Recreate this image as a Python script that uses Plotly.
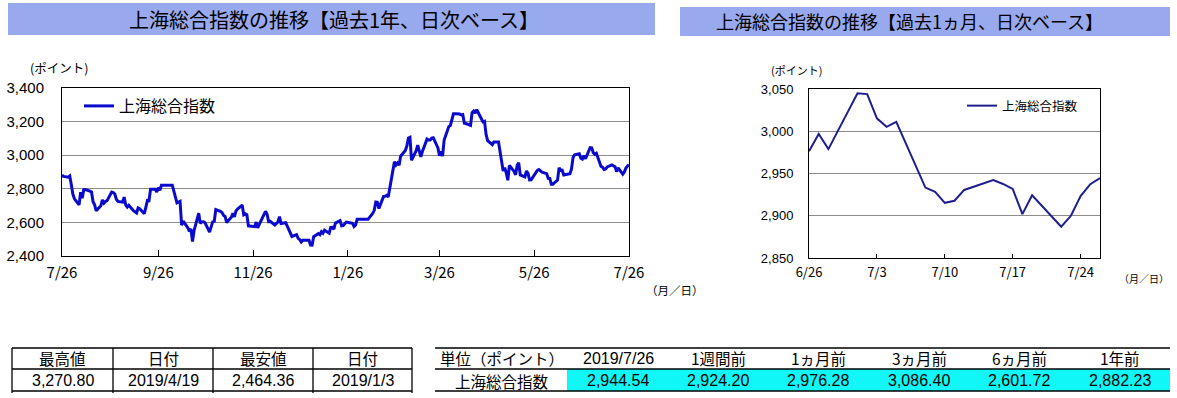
import plotly.graph_objects as go

W, H = 1177, 398
FONT = "Noto Sans CJK JP"
NUMFONT = "Liberation Sans"

# ---------------- data ----------------
dates_1y = [
    "2018-07-26", "2018-07-27", "2018-07-30", "2018-07-31", "2018-08-01", "2018-08-02", "2018-08-03",
    "2018-08-06", "2018-08-07", "2018-08-08", "2018-08-09", "2018-08-10", "2018-08-13", "2018-08-14",
    "2018-08-15", "2018-08-16", "2018-08-17", "2018-08-20", "2018-08-21", "2018-08-22", "2018-08-23",
    "2018-08-24", "2018-08-27", "2018-08-28", "2018-08-29", "2018-08-30", "2018-08-31", "2018-09-03",
    "2018-09-04", "2018-09-05", "2018-09-06", "2018-09-07", "2018-09-10", "2018-09-11", "2018-09-12",
    "2018-09-13", "2018-09-14", "2018-09-17", "2018-09-18", "2018-09-19", "2018-09-20", "2018-09-21",
    "2018-09-24", "2018-09-25", "2018-09-26", "2018-09-27", "2018-09-28", "2018-10-01", "2018-10-02",
    "2018-10-03", "2018-10-04", "2018-10-05", "2018-10-08", "2018-10-09", "2018-10-10", "2018-10-11",
    "2018-10-12", "2018-10-15", "2018-10-16", "2018-10-17", "2018-10-18", "2018-10-19", "2018-10-22",
    "2018-10-23", "2018-10-24", "2018-10-25", "2018-10-26", "2018-10-29", "2018-10-30", "2018-10-31",
    "2018-11-01", "2018-11-02", "2018-11-05", "2018-11-06", "2018-11-07", "2018-11-08", "2018-11-09",
    "2018-11-12", "2018-11-13", "2018-11-14", "2018-11-15", "2018-11-16", "2018-11-19", "2018-11-20",
    "2018-11-21", "2018-11-22", "2018-11-23", "2018-11-26", "2018-11-27", "2018-11-28", "2018-11-29",
    "2018-11-30", "2018-12-03", "2018-12-04", "2018-12-05", "2018-12-06", "2018-12-07", "2018-12-10",
    "2018-12-11", "2018-12-12", "2018-12-13", "2018-12-14", "2018-12-17", "2018-12-18", "2018-12-19",
    "2018-12-20", "2018-12-21", "2018-12-24", "2018-12-25", "2018-12-26", "2018-12-27", "2018-12-28",
    "2018-12-31", "2019-01-01", "2019-01-02", "2019-01-03", "2019-01-04", "2019-01-07", "2019-01-08",
    "2019-01-09", "2019-01-10", "2019-01-11", "2019-01-14", "2019-01-15", "2019-01-16", "2019-01-17",
    "2019-01-18", "2019-01-21", "2019-01-22", "2019-01-23", "2019-01-24", "2019-01-25", "2019-01-28",
    "2019-01-29", "2019-01-30", "2019-01-31", "2019-02-01", "2019-02-04", "2019-02-05", "2019-02-06",
    "2019-02-07", "2019-02-08", "2019-02-11", "2019-02-12", "2019-02-13", "2019-02-14", "2019-02-15",
    "2019-02-18", "2019-02-19", "2019-02-20", "2019-02-21", "2019-02-22", "2019-02-25", "2019-02-26",
    "2019-02-27", "2019-02-28", "2019-03-01", "2019-03-04", "2019-03-05", "2019-03-06", "2019-03-07",
    "2019-03-08", "2019-03-11", "2019-03-12", "2019-03-13", "2019-03-14", "2019-03-15", "2019-03-18",
    "2019-03-19", "2019-03-20", "2019-03-21", "2019-03-22", "2019-03-25", "2019-03-26", "2019-03-27",
    "2019-03-28", "2019-03-29", "2019-04-01", "2019-04-02", "2019-04-03", "2019-04-04", "2019-04-05",
    "2019-04-08", "2019-04-09", "2019-04-10", "2019-04-11", "2019-04-12", "2019-04-15", "2019-04-16",
    "2019-04-17", "2019-04-18", "2019-04-19", "2019-04-22", "2019-04-23", "2019-04-24", "2019-04-25",
    "2019-04-26", "2019-04-29", "2019-04-30", "2019-05-01", "2019-05-02", "2019-05-03", "2019-05-06",
    "2019-05-07", "2019-05-08", "2019-05-09", "2019-05-10", "2019-05-13", "2019-05-14", "2019-05-15",
    "2019-05-16", "2019-05-17", "2019-05-20", "2019-05-21", "2019-05-22", "2019-05-23", "2019-05-24",
    "2019-05-27", "2019-05-28", "2019-05-29", "2019-05-30", "2019-05-31", "2019-06-03", "2019-06-04",
    "2019-06-05", "2019-06-06", "2019-06-07", "2019-06-10", "2019-06-11", "2019-06-12", "2019-06-13",
    "2019-06-14", "2019-06-17", "2019-06-18", "2019-06-19", "2019-06-20", "2019-06-21", "2019-06-24",
    "2019-06-25", "2019-06-26", "2019-06-27", "2019-06-28", "2019-07-01", "2019-07-02", "2019-07-03",
    "2019-07-04", "2019-07-05", "2019-07-08", "2019-07-09", "2019-07-10", "2019-07-11", "2019-07-12",
    "2019-07-15", "2019-07-16", "2019-07-17", "2019-07-18", "2019-07-19", "2019-07-22", "2019-07-23",
    "2019-07-24", "2019-07-25", "2019-07-26",
]
values_1y = [
    2882.23, 2873.59, 2869.05, 2876.40, 2824.53, 2768.02, 2740.44,
    2705.16, 2779.37, 2744.07, 2794.38, 2795.31, 2785.87, 2780.96,
    2723.26, 2705.19, 2668.97, 2698.47, 2733.75, 2714.61, 2724.62,
    2729.43, 2780.90, 2777.98, 2769.30, 2737.74, 2725.25, 2720.73,
    2750.58, 2704.34, 2691.59, 2702.30, 2669.48, 2664.80, 2656.11,
    2686.58, 2681.64, 2651.79, 2699.95, 2730.85, 2729.24, 2797.49,
    2797.49, 2781.14, 2806.81, 2791.77, 2821.35, 2821.35, 2821.35,
    2821.35, 2821.35, 2821.35, 2716.51, 2721.01, 2725.84, 2583.46,
    2606.91, 2568.10, 2546.33, 2561.61, 2486.42, 2550.47, 2654.88,
    2594.83, 2603.30, 2603.80, 2598.85, 2542.10, 2568.05, 2602.78,
    2606.24, 2676.48, 2665.43, 2659.36, 2641.34, 2635.63, 2598.87,
    2630.52, 2654.88, 2632.24, 2668.17, 2679.11, 2703.51, 2645.43,
    2651.51, 2645.85, 2579.48, 2575.81, 2574.68, 2601.74, 2567.44,
    2588.19, 2654.80, 2665.96, 2649.81, 2605.18, 2605.89, 2584.58,
    2594.09, 2602.15, 2634.05, 2593.74, 2597.97, 2576.65, 2549.56,
    2536.27, 2516.25, 2527.01, 2504.82, 2498.29, 2483.09, 2493.90,
    2493.90, 2493.90, 2465.29, 2464.36, 2514.87, 2533.09, 2526.46,
    2544.34, 2535.10, 2553.83, 2535.77, 2570.34, 2570.42, 2559.64,
    2596.01, 2610.51, 2579.70, 2581.00, 2591.69, 2601.72, 2596.98,
    2594.25, 2575.58, 2584.57, 2618.23, 2618.23, 2618.23, 2618.23,
    2618.23, 2618.23, 2653.90, 2671.89, 2721.07, 2719.70, 2682.39,
    2754.36, 2755.65, 2761.22, 2751.80, 2804.23, 2961.28, 2941.52,
    2953.82, 2940.95, 2994.01, 3027.58, 3054.25, 3102.10, 3106.42,
    2969.86, 3026.99, 3060.31, 3026.95, 2990.69, 3021.75, 3096.42,
    3090.98, 3090.64, 3101.46, 3104.15, 3043.03, 2997.10, 3022.72,
    2994.94, 3090.76, 3170.36, 3176.82, 3216.30, 3246.57, 3246.57,
    3244.81, 3239.66, 3241.93, 3189.96, 3188.63, 3177.79, 3253.60,
    3263.12, 3250.20, 3270.80, 3215.04, 3198.59, 3201.61, 3123.83,
    3086.40, 3062.50, 3078.34, 3078.34, 3078.34, 3078.34, 2906.46,
    2926.39, 2893.76, 2850.95, 2939.21, 2903.71, 2883.61, 2938.68,
    2955.71, 2882.30, 2870.60, 2905.97, 2891.70, 2852.52, 2852.99,
    2892.38, 2909.91, 2914.70, 2905.81, 2898.70, 2890.08, 2862.28,
    2861.42, 2827.80, 2827.80, 2852.13, 2925.72, 2909.38, 2910.74,
    2881.97, 2887.62, 2890.16, 2917.80, 2987.12, 3001.98, 3008.15,
    2982.07, 2976.28, 2996.79, 2978.88, 3044.90, 3043.94, 3015.26,
    3005.25, 3011.06, 2933.36, 2928.23, 2915.30, 2917.76, 2930.55,
    2942.19, 2937.62, 2931.69, 2901.95, 2924.20, 2886.97, 2899.94,
    2923.28, 2937.36, 2944.54,
]

dates_1m = [
    "2019-06-26", "2019-06-27", "2019-06-28", "2019-07-01", "2019-07-02", "2019-07-03",
    "2019-07-04", "2019-07-05", "2019-07-08", "2019-07-09", "2019-07-10", "2019-07-11",
    "2019-07-12", "2019-07-15", "2019-07-16", "2019-07-17", "2019-07-18", "2019-07-19",
    "2019-07-22", "2019-07-23", "2019-07-24", "2019-07-25", "2019-07-26",
]
values_1m = [
    2976.28, 2996.79, 2978.88, 3044.90, 3043.94, 3015.26,
    3005.25, 3011.06, 2933.36, 2928.23, 2915.30, 2917.76,
    2930.55, 2942.19, 2937.62, 2931.69, 2901.95, 2924.20,
    2886.97, 2899.94, 2923.28, 2937.36, 2944.54,
]

series_name = "上海総合指数"
title_1y = "上海総合指数の推移【過去1年、日次ベース】"
title_1m = "上海総合指数の推移【過去1ヵ月、日次ベース】"

ticks_1y = ["2018-07-26", "2018-09-26", "2018-11-26", "2019-01-26", "2019-03-26", "2019-05-26", "2019-07-26"]
ticklabels_1y = ["7/26", "9/26", "11/26", "1/26", "3/26", "5/26", "7/26"]
ticks_1m = ["2019-06-26", "2019-07-03", "2019-07-10", "2019-07-17", "2019-07-24"]
ticklabels_1m = ["6/26", "7/3", "7/10", "7/17", "7/24"]

summary_headers = ["最高値", "日付", "最安値", "日付"]
summary_values = ["3,270.80", "2019/4/19", "2,464.36", "2019/1/3"]

compare_headers = ["単位（ポイント）", "2019/7/26", "1週間前", "1ヵ月前", "3ヵ月前", "6ヵ月前", "1年前"]
compare_row_label = "上海総合指数"
compare_values = [2944.54, 2924.20, 2976.28, 3086.40, 2601.72, 2882.23]

# ---------------- helpers ----------------
def px(x):
    return x / W

def py(y):
    return 1 - y / H

BAR = "#99A9EE"
CYAN = "#11F7F7"

fig = go.Figure()

fig.add_trace(go.Scatter(
    x=dates_1y, y=values_1y, mode="lines", name=series_name,
    line=dict(color="#0A0ACD", width=3), xaxis="x", yaxis="y", legend="legend",
))
fig.add_trace(go.Scatter(
    x=dates_1m, y=values_1m, mode="lines", name=series_name,
    line=dict(color="#1E1E8E", width=2), xaxis="x2", yaxis="y2", legend="legend2",
))

axis_common = dict(showline=True, linecolor="black", linewidth=1, mirror=True,
                   zeroline=False, automargin=False)

fig.update_layout(
    width=W, height=H, margin=dict(l=0, r=0, t=0, b=0, pad=0, autoexpand=False),
    paper_bgcolor="white", plot_bgcolor="white",
    font=dict(family=FONT, color="black"),
    xaxis=dict(domain=[px(62), px(629)], anchor="y", type="date",
               range=["2018-07-26", "2019-07-26"], tickvals=ticks_1y, ticktext=ticklabels_1y,
               ticks="inside", ticklen=6, tickcolor="black", showgrid=False,
               tickfont=dict(family=FONT, size=15), ticklabelstandoff=3, **axis_common),
    yaxis=dict(domain=[py(256), py(88)], anchor="x", range=[2400, 3400], dtick=200,
               tickformat=",d", showgrid=True, gridcolor="#8C8C8C", gridwidth=1,
               ticks="", tickfont=dict(family=NUMFONT, size=15), ticklabelstandoff=14,
               **axis_common),
    xaxis2=dict(domain=[px(809), px(1100)], anchor="y2", type="date",
                range=["2019-06-26", "2019-07-26"], tickvals=ticks_1m, ticktext=ticklabels_1m,
                ticks="inside", ticklen=4, tickcolor="black", showgrid=False,
                tickfont=dict(family=FONT, size=13), ticklabelstandoff=2, **axis_common),
    yaxis2=dict(domain=[py(258), py(89)], anchor="x2", range=[2850, 3050], dtick=50,
                tickformat=",d", showgrid=True, gridcolor="#8C8C8C", gridwidth=1,
                ticks="", tickfont=dict(family=NUMFONT, size=13), ticklabelstandoff=12,
                **axis_common),
    legend=dict(x=px(79), y=py(106), xanchor="left", yanchor="middle",
                bgcolor="rgba(0,0,0,0)", font=dict(family=FONT, size=16)),
    legend2=dict(x=px(962), y=py(106), xanchor="left", yanchor="middle",
                 bgcolor="rgba(0,0,0,0)", font=dict(family=FONT, size=12.5)),
    showlegend=True,
)

shapes = []
annotations = []

def text(x, y, s, size, family=FONT, xanchor="center"):
    annotations.append(dict(x=px(x), y=py(y), xref="paper", yref="paper", text=s,
                            showarrow=False, xanchor=xanchor, yanchor="middle",
                            borderpad=0,
                            font=dict(family=family, size=size, color="black")))

def hline(x0, x1, y, w=1.3):
    shapes.append(dict(type="line", xref="paper", yref="paper", x0=px(x0), x1=px(x1),
                       y0=py(y), y1=py(y), line=dict(color="black", width=w)))

def vline(x, y0, y1, w=1.3):
    shapes.append(dict(type="line", xref="paper", yref="paper", x0=px(x), x1=px(x),
                       y0=py(y0), y1=py(y1), line=dict(color="black", width=w)))

# title bars
shapes.append(dict(type="rect", xref="paper", yref="paper", x0=px(8), x1=px(655),
                   y0=py(35), y1=py(3), fillcolor=BAR, line=dict(width=0), layer="below"))
shapes.append(dict(type="rect", xref="paper", yref="paper", x0=px(680), x1=px(1170),
                   y0=py(36), y1=py(7), fillcolor=BAR, line=dict(width=0), layer="below"))
text(334, 19, title_1y, 20)
text(909, 21, title_1m, 18)

# axis captions
text(59, 68, "(ポイント)", 12.5)
text(796, 70, "(ポイント)", 11)
text(675, 290, "（月／日）", 11.5)
text(1144, 278, "（月／日）", 10)

# summary table
tx = [12, 113, 213, 313, 412]
hline(tx[0], tx[-1], 348)
hline(tx[0], tx[-1], 369)
hline(tx[0], tx[-1], 391)
for x in tx:
    vline(x, 348, 393)
for i, (h, v) in enumerate(zip(summary_headers, summary_values)):
    cx = (tx[i] + tx[i + 1]) / 2
    text(cx, 358, h, 15.5)
    text(cx, 380.5, v, 16, family=NUMFONT)

# comparison table
shapes.append(dict(type="rect", xref="paper", yref="paper", x0=px(567), x1=px(1170),
                   y0=py(391), y1=py(369), fillcolor=CYAN, line=dict(width=0), layer="below"))
hline(435, 1170, 348)
hline(435, 1170, 369)
hline(435, 1170, 391)
col_centers = [502, 618, 718, 818, 919, 1019, 1120]
for cx, h in zip(col_centers, compare_headers):
    if h.startswith("2019"):
        text(cx, 358, h, 16, family=NUMFONT)
    else:
        text(cx, 358, h, 15.5)
text(col_centers[0], 381, compare_row_label, 15.5)
for cx, v in zip(col_centers[1:], compare_values):
    text(cx, 380.5, f"{v:,.2f}", 16, family=NUMFONT)

fig.update_layout(shapes=shapes, annotations=annotations)

fig.write_html("out.html", config={"displayModeBar": False},
               post_script="document.body.style.margin='0';")
